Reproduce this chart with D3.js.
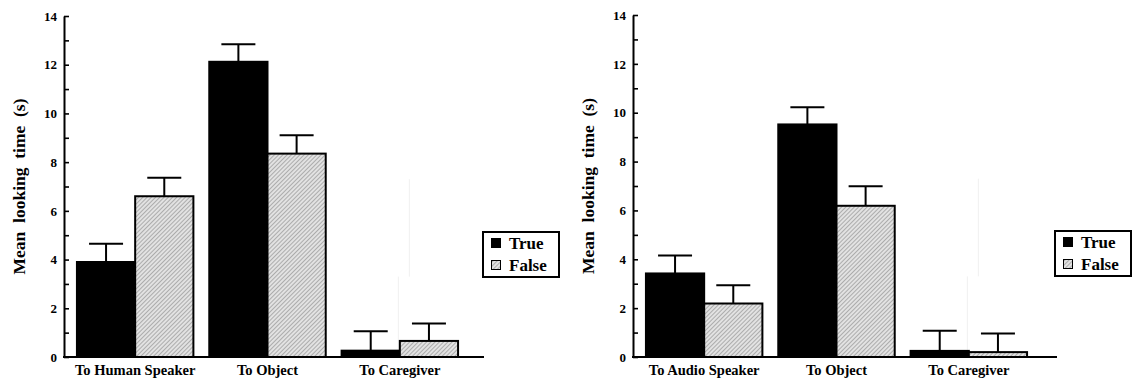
<!DOCTYPE html>
<html><head><meta charset="utf-8">
<script src="https://cdn.jsdelivr.net/npm/d3@7"></script>
<style>
html,body{margin:0;padding:0;background:#fff;}
svg{display:block;}
svg text{font-family:"Liberation Serif","Times New Roman",Times,"DejaVu Serif",serif !important;font-weight:bold;fill:#000;}
</style></head>
<body>
<svg id="chart" width="1139" height="382"></svg>
<script>
// ---- data ----
const seriesNames = ["True", "False"];
const yTicks = [0,1,2,3,4,5,6,7,8,9,10,11,12,13,14];
const yLabel = "Mean  looking  time  (s)";

const leftCategories = ["To Human Speaker", "To Object", "To Caregiver"];
const leftTrue = [3.9, 12.12, 0.26];
const leftTrueErr = [0.75, 0.72, 0.8];
const leftFalse = [6.6, 8.35, 0.66];
const leftFalseErr = [0.76, 0.75, 0.72];

const rightCategories = ["To Audio Speaker", "To Object", "To Caregiver"];
const rightTrue = [3.42, 9.52, 0.25];
const rightTrueErr = [0.74, 0.7, 0.82];
const rightFalse = [2.19, 6.19, 0.2];
const rightFalseErr = [0.75, 0.8, 0.76];

const FONT = "'Liberation Serif','Times New Roman',Times,serif";
const svg = d3.select("#chart");
const defs = svg.append("defs");
const pat = defs.append("pattern").attr("id","hatch").attr("patternUnits","userSpaceOnUse")
  .attr("width",3).attr("height",3).attr("patternTransform","rotate(45)");
pat.append("rect").attr("width",3).attr("height",3).attr("fill","#e2e2e2");
pat.append("line").attr("x1",0).attr("y1",0).attr("x2",0).attr("y2",3)
  .attr("stroke","#808080").attr("stroke-width",1.1);

function panel(opts){
  const {axisX, yTop, yBottom, xEnd, cats, tv, te, fv, fe, labelX, legX, legY} = opts;
  const g = svg.append("g").attr("font-family", FONT);
  const y = d3.scaleLinear().domain([0,14]).range([yBottom, yTop]);
  const x = d3.scaleBand().domain(cats).range([axisX+5, axisX+402]).paddingInner(0.12).paddingOuter(0.06);
  const xs = d3.scaleBand().domain(seriesNames).range([0, x.bandwidth()]);

  // faint artifact lines near caregiver
  const cg = cats[2];
  const mid = x(cg) + xs("False");
  g.append("line").attr("x1",mid+9.5).attr("x2",mid+9.5).attr("y1",y(7.3)).attr("y2",y(3.3))
    .attr("stroke","#f0f0f0").attr("stroke-width",1);
  g.append("line").attr("x1",mid-1.5).attr("x2",mid-1.5).attr("y1",y(3.3)).attr("y2",y(0))
    .attr("stroke","#f0f0f0").attr("stroke-width",1);

  // y axis
  const ya = g.append("g").attr("transform",`translate(${axisX},0)`)
    .call(d3.axisLeft(y).tickValues(yTicks).tickSizeInner(-5).tickSizeOuter(0).tickPadding(7)
      .tickFormat(d => d % 2 === 0 ? d : ""));
  ya.attr("font-family", FONT).attr("font-size", 13);
  ya.select(".domain").attr("stroke","#000").attr("stroke-width",2);
  ya.selectAll(".tick line").attr("stroke","#000").attr("stroke-width",1.6);
  ya.selectAll(".tick text").style("font-size","13px").attr("fill","#000");

  // bars
  const rows = cats.map((c,i)=>[
    {c, s:"True", v:tv[i], e:te[i]},
    {c, s:"False", v:fv[i], e:fe[i]}
  ]).flat();

  // error bars
  const cap = 17;
  rows.forEach(r=>{
    const cx = x(r.c) + xs(r.s) + xs.bandwidth()/2;
    g.append("line").attr("x1",cx).attr("x2",cx).attr("y1",y(r.v)).attr("y2",y(r.v+r.e))
      .attr("stroke","#000").attr("stroke-width",2);
    g.append("line").attr("x1",cx-cap).attr("x2",cx+cap).attr("y1",y(r.v+r.e)).attr("y2",y(r.v+r.e))
      .attr("stroke","#000").attr("stroke-width",2);
  });

  g.selectAll("rect.bar").data(rows).join("rect").attr("class","bar")
    .attr("x", d=>x(d.c)+xs(d.s))
    .attr("y", d=>y(d.v))
    .attr("width", xs.bandwidth())
    .attr("height", d=>y(0)-y(d.v))
    .attr("fill", d=> d.s==="True" ? "#000" : "url(#hatch)")
    .attr("stroke","#000").attr("stroke-width",2);

  // baseline
  g.append("line").attr("x1",axisX-1).attr("x2",xEnd).attr("y1",y(0)).attr("y2",y(0))
    .attr("stroke","#000").attr("stroke-width",2);

  // x category labels
  const xa = g.append("g").attr("transform",`translate(0,${y(0)})`)
    .call(d3.axisBottom(x).tickSize(0).tickPadding(8));
  xa.attr("font-family", FONT);
  xa.select(".domain").remove();
  xa.selectAll(".tick text").style("font-size","14.5px").attr("fill","#000");

  // y label
  g.append("text").attr("transform",`translate(${labelX},${(y(0)+y(14))/2}) rotate(-90)`)
    .attr("text-anchor","middle").style("font-size","17.5px").style("white-space","pre")
    .attr("dy","0.35em").text(yLabel);

  // legend
  const lg = g.append("g").attr("transform",`translate(${legX},${legY})`);
  lg.append("rect").attr("width",76).attr("height",45).attr("fill","#fff")
    .attr("stroke","#000").attr("stroke-width",2);
  seriesNames.forEach((s,i)=>{
    lg.append("rect").attr("x",8.5).attr("y",6.5+i*22).attr("width",9).attr("height",9)
      .attr("fill", s==="True" ? "#000" : "url(#hatch)").attr("stroke","#000").attr("stroke-width",1);
    lg.append("text").attr("x",26).attr("y",17+i*22).style("font-size","17px").text(s);
  });
}

panel({axisX:64, yTop:16, yBottom:357, xEnd:484, cats:leftCategories,
  tv:leftTrue, te:leftTrueErr, fv:leftFalse, fe:leftFalseErr, labelX:19, legX:483, legY:232});
panel({axisX:633, yTop:15, yBottom:357, xEnd:1057, cats:rightCategories,
  tv:rightTrue, te:rightTrueErr, fv:rightFalse, fe:rightFalseErr, labelX:588, legX:1055, legY:231});
</script>
</body></html>
